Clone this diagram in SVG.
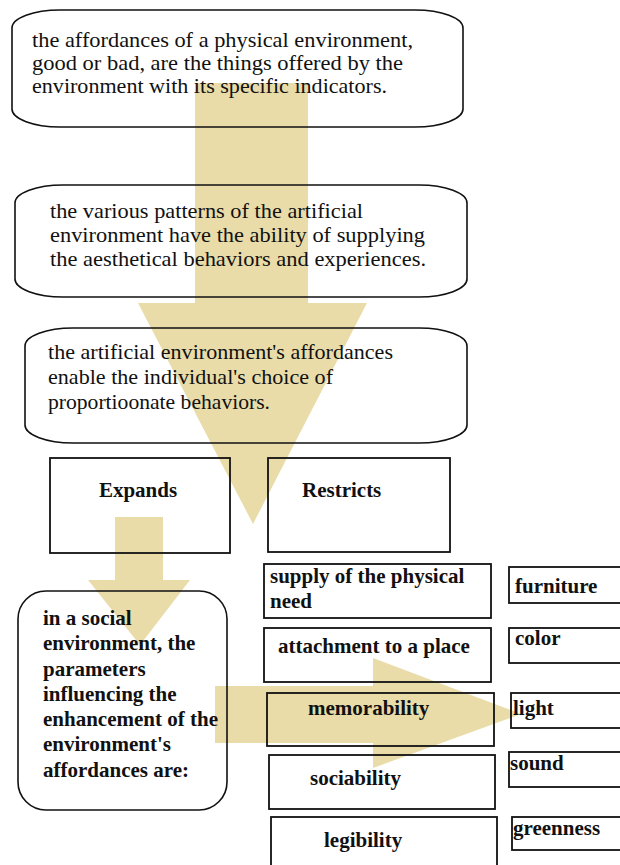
<svg xmlns="http://www.w3.org/2000/svg" width="620" height="865" viewBox="0 0 620 865">
<style>
.bg{fill:#ffffff}
.arrow{fill:#e9dca9;stroke:none}
.rbox{fill:none;stroke:#111;stroke-width:1.6}
.box{fill:none;stroke:#111;stroke-width:1.8}
.reg{font-family:"Liberation Serif","Times New Roman",serif;font-size:21px;fill:#111}
.bold{font-family:"Liberation Serif","Times New Roman",serif;font-size:21px;font-weight:bold;fill:#111}
</style>
<rect class="bg" x="0" y="0" width="620" height="865"/>
<g id="connectors">
<polygon class="arrow" points="195,83 308,83 308,303 367,303 253,524 138,303 195,303"/>
<polygon class="arrow" points="115,517 163,517 163,580 190,580 140,645 88,580 115,580"/>
<polygon class="arrow" points="215,686 373,686 373,658 521,714 373,768 373,743 215,743"/>
</g>
<g id="node-affordances">
<rect class="rbox" x="12" y="10" width="451" height="117" rx="48" ry="18"/>
<text class="reg" x="32" y="47" textLength="381" lengthAdjust="spacingAndGlyphs">the affordances of a physical environment,</text>
<text class="reg" x="32" y="70" textLength="371" lengthAdjust="spacingAndGlyphs">good or bad, are the things offered by the</text>
<text class="reg" x="32" y="93" textLength="355" lengthAdjust="spacingAndGlyphs">environment with its specific indicators.</text>
</g>
<g id="node-patterns">
<rect class="rbox" x="15" y="185" width="452" height="112" rx="48" ry="18"/>
<text class="reg" x="50" y="218" textLength="313" lengthAdjust="spacingAndGlyphs">the various patterns of the artificial</text>
<text class="reg" x="50" y="242" textLength="375" lengthAdjust="spacingAndGlyphs">environment have the ability of supplying</text>
<text class="reg" x="50" y="266" textLength="376" lengthAdjust="spacingAndGlyphs">the aesthetical behaviors and experiences.</text>
</g>
<g id="node-enable">
<rect class="rbox" x="25" y="328" width="442" height="115" rx="48" ry="18"/>
<text class="reg" x="48" y="359" textLength="345" lengthAdjust="spacingAndGlyphs">the artificial environment's affordances</text>
<text class="reg" x="48" y="384" textLength="285" lengthAdjust="spacingAndGlyphs">enable the individual's choice of</text>
<text class="reg" x="48" y="409" textLength="222" lengthAdjust="spacingAndGlyphs">proportioonate behaviors.</text>
</g>
<g id="node-expands">
<rect class="box" x="50" y="458" width="180" height="95"/>
<text class="bold" x="138" y="497" text-anchor="middle">Expands</text>
</g>
<g id="node-restricts">
<rect class="box" x="268" y="458" width="182" height="94"/>
<text class="bold" x="302" y="497">Restricts</text>
</g>
<g id="node-social">
<rect class="rbox" x="18" y="591" width="209" height="219" rx="28" ry="28"/>
<text class="bold" x="43" y="625">in a social</text>
<text class="bold" x="43" y="650">environment, the</text>
<text class="bold" x="43" y="676">parameters</text>
<text class="bold" x="43" y="701">influencing the</text>
<text class="bold" x="43" y="726">enhancement of the</text>
<text class="bold" x="43" y="751">environment's</text>
<text class="bold" x="43" y="777">affordances are:</text>
</g>
<g id="node-supply">
<rect class="box" x="264" y="564" width="227" height="54"/>
<text class="bold" x="270" y="583">supply of the physical</text>
<text class="bold" x="270" y="608">need</text>
</g>
<g id="node-attachment">
<rect class="box" x="264" y="628" width="227" height="54"/>
<text class="bold" x="278" y="653">attachment to a place</text>
</g>
<g id="node-memorability">
<rect class="box" x="267" y="693" width="227" height="53"/>
<text class="bold" x="308" y="715">memorability</text>
</g>
<g id="node-sociability">
<rect class="box" x="269" y="755" width="226" height="54"/>
<text class="bold" x="310" y="785">sociability</text>
</g>
<g id="node-legibility">
<rect class="box" x="271" y="817" width="226" height="60"/>
<text class="bold" x="324" y="847">legibility</text>
</g>
<g id="node-furniture">
<rect class="box" x="509" y="567" width="120" height="36"/>
<text class="bold" x="515" y="593">furniture</text>
</g>
<g id="node-color">
<rect class="box" x="509" y="628" width="120" height="35"/>
<text class="bold" x="515" y="645">color</text>
</g>
<g id="node-light">
<rect class="box" x="511" y="693" width="120" height="35"/>
<text class="bold" x="513" y="715">light</text>
</g>
<g id="node-sound">
<rect class="box" x="509" y="752" width="120" height="35"/>
<text class="bold" x="510" y="770">sound</text>
</g>
<g id="node-greenness">
<rect class="box" x="512" y="817" width="120" height="33"/>
<text class="bold" x="513" y="835">greenness</text>
</g>
</svg>
